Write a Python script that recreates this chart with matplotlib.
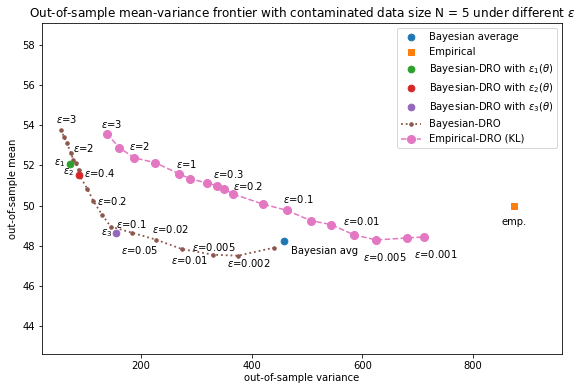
import matplotlib
matplotlib.use("Agg")
import matplotlib.pyplot as plt

# Bayesian-DRO frontier (variance, mean), eps from large to small
bdro_var = [54.9, 60.8, 66.3, 72.9, 77.6, 82.5, 87.4, 89.8, 102.9, 113.8,
            129.5, 145.2, 183.2, 227.1, 274.1, 330.1, 375.3, 440.4]
bdro_mean = [53.79, 53.42, 53.10, 52.64, 52.29, 52.10, 51.75, 51.45, 50.84, 50.22,
             49.55, 48.95, 48.65, 48.30, 47.83, 47.55, 47.50, 47.90]

# Empirical-DRO (KL) frontier
edro_var = [138.0, 160.8, 187.3, 225.8, 269.2, 288.6, 319.8, 337.9, 349.5, 365.7,
            420.0, 463.9, 506.7, 543.8, 585.0, 625.4, 680.2, 711.5]
edro_mean = [53.585, 52.885, 52.385, 52.135, 51.575, 51.34, 51.115, 50.985, 50.84, 50.585,
             50.075, 49.76, 49.25, 49.05, 48.54, 48.285, 48.385, 48.435]

# single points
bayes_avg = (458.4, 48.21)
empirical = (874.1, 50.0)
eps1_pt = (71.7, 52.05)
eps2_pt = (87.4, 51.5)
eps3_pt = (154.8, 48.63)

# labels: (index into curve, text, dx, dy) offsets in points
bdro_labels = [(0, '3', -5, 7), (3, '2', 2, 1), (7, '0.4', 4, -1), (9, '0.2', 4, -4),
               (11, '0.1', 5, -1), (12, '0.05', -11, -21), (13, '0.02', -4, 7),
               (14, '0.01', -11, -15), (15, '0.005', -21, 4), (16, '0.002', -11, -11)]
edro_labels = [(0, '3', -6, 6), (2, '2', -5, 8), (4, '1', -3, 6), (7, '0.3', -4, 8),
               (9, '0.2', 0, 4), (11, '0.1', -4, 7), (14, '0.01', -11, 10),
               (15, '0.005', -13, -21), (17, '0.001', -10, -21)]

fig = plt.figure(figsize=(579 / 72, 385 / 72), dpi=72)
ax = fig.add_axes([42 / 579, 31 / 385, 520 / 579, 331 / 385])

ax.scatter(*bayes_avg, color='C0', s=45, label='Bayesian average', zorder=3)
ax.scatter(*empirical, color='C1', marker='s', s=40, label='Empirical', zorder=3)
ax.scatter(*eps1_pt, color='C2', s=45, label=r'Bayesian-DRO with $\epsilon_1(\theta)$', zorder=3)
ax.scatter(*eps2_pt, color='C3', s=45, label=r'Bayesian-DRO with $\epsilon_2(\theta)$', zorder=3)
ax.scatter(*eps3_pt, color='C4', s=45, label=r'Bayesian-DRO with $\epsilon_3(\theta)$', zorder=3)
ax.plot(bdro_var, bdro_mean, ':', color='C5', marker='o', markersize=3.5, lw=1.8,
        label='Bayesian-DRO')
ax.plot(edro_var, edro_mean, '--', color='C6', marker='o', markersize=8, lw=1.5,
        label='Empirical-DRO (KL)')

for i, t, dx, dy in bdro_labels:
    ax.annotate(r'$\epsilon$=' + t, (bdro_var[i], bdro_mean[i]), xytext=(dx, dy),
                textcoords='offset points', va='baseline', fontsize=10)
for i, t, dx, dy in edro_labels:
    ax.annotate(r'$\epsilon$=' + t, (edro_var[i], edro_mean[i]), xytext=(dx, dy),
                textcoords='offset points', va='baseline', fontsize=10)

ax.annotate(r'$\epsilon_1$', eps1_pt, xytext=(-16, -1), textcoords='offset points', va='baseline')
ax.annotate(r'$\epsilon_2$', eps2_pt, xytext=(-16, 1), textcoords='offset points', va='baseline')
ax.annotate(r'$\epsilon_3$', eps3_pt, xytext=(-15, -2), textcoords='offset points', va='baseline')
ax.annotate('Bayesian avg', bayes_avg, xytext=(7, -13), textcoords='offset points', va='baseline')
ax.annotate('emp.', empirical, xytext=(0, -19), textcoords='offset points', va='baseline',
            ha='center')

ax.set_xlim(21, 961)
ax.set_ylim(42.6, 59.1)
ax.set_xticks([200, 400, 600, 800])
ax.set_yticks([44, 46, 48, 50, 52, 54, 56, 58])
ax.set_xlabel('out-of-sample variance', labelpad=2)
ax.set_ylabel('out-of-sample mean')
ax.set_title(r'Out-of-sample mean-variance frontier with contaminated data size N = 5 under different $\epsilon$')
ax.legend(loc='upper right')

fig.savefig('out.png', dpi=72)
